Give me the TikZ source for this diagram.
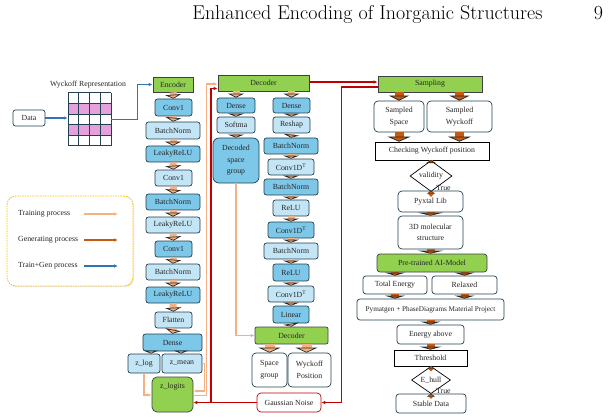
\documentclass[tikz,border=0pt]{standalone}
\usepackage{fontspec}
\newfontfamily\tnr{Liberation Serif}
\usetikzlibrary{arrows.meta,shapes.geometric,shadows}
\definecolor{grn}{HTML}{92D050}
\definecolor{bdk}{HTML}{7DC7E9}
\definecolor{blt}{HTML}{C3E5F5}
\definecolor{edge}{HTML}{22404F}
\definecolor{sal}{HTML}{F4B183}
\definecolor{dor}{HTML}{C55A11}
\definecolor{lblue}{HTML}{2E75B6}
\definecolor{rd}{HTML}{C00000}
\definecolor{pinkc}{HTML}{E4A1DC}
\definecolor{gold}{HTML}{FFC000}
\begin{document}
\begin{tikzpicture}[x=1pt,y=-1pt,
  bx/.style={draw=edge,line width=0.7pt,rounded corners=2.5pt,inner sep=0pt,align=center,text=black!85,font=\tnr\fontsize{7.8}{11.5}\selectfont},
  dk/.style={bx,fill=bdk},
  lt/.style={bx,fill=blt},
  wt/.style={bx,fill=white},
  gr/.style={bx,fill=grn,draw=black!75,rounded corners=0pt},
  sq/.style={bx,fill=white,draw=black,rounded corners=0pt},
  dm/.style={diamond,draw=black,fill=white,line width=0.7pt,inner sep=0pt,text=black!85,font=\tnr\fontsize{7.8}{9}\selectfont},
  sz/.style 2 args={minimum width=#1pt,minimum height=#2pt},
  txt/.style={inner sep=0pt,text=black!85,font=\tnr\fontsize{7.8}{9}\selectfont},
  la/.style n args={3}{draw=sal,line width=#1pt,-{Triangle[width=#2pt,length=#3pt,color=black!85,fill=sal,line width=0.7pt]}},
  da/.style n args={3}{draw=dor,line width=#1pt,-{Triangle[width=#2pt,length=#3pt,color=black!85,fill=dor,line width=0.7pt]}},
  dd/.style={draw=dor,line width=2.2pt,{Circle[length=4.5pt,width=4.5pt,color=dor]}-{Triangle[width=8pt,length=3pt,color=black!85,fill=dor,line width=0.4pt]}},
  rl/.style={draw=rd,line width=1.1pt,-{Latex[length=4pt,width=3.5pt]}},
  bl/.style={draw=lblue,line width=1.1pt,-{Latex[length=4pt,width=3.5pt]}},
  sl/.style={draw=sal,line width=1.1pt,-{Latex[length=4pt,width=3.5pt]}},
  gl/.style={draw=dor,line width=1.2pt,-{Latex[length=4pt,width=3.5pt]}}
]
\useasboundingbox (0,0) rectangle (614,420);

% header
\node[font=\fontsize{20}{22}\selectfont,anchor=base] (hdr) at (367.5,20) {Enhanced Encoding of Inorganic Structures};
\node[font=\fontsize{20}{22}\selectfont,anchor=base] (pg) at (598.5,20) {9};

% data and grid
\node[wt,sz={32}{16}] (data) at (29,118) {Data};
\node[txt] (wr) at (88,85) {Wyckoff Representation};
\node[inner sep=0pt,sz={43}{53}] (grid) at (89.5,119.5) {};
\foreach \r in {1,3} \fill[pinkc] (68,93+\r*10.6) rectangle ++(43,10.6);
\foreach \i in {0,...,4} \draw[edge,line width=1pt] (68+\i*10.75,93) -- ++(0,53);
\foreach \j in {0,...,5} \draw[edge,line width=1pt] (68,93+\j*10.6) -- ++(43,0);

% legend
\node[draw=gold,dash pattern=on 1.5pt off 1pt,line width=0.8pt,rounded corners=9pt,fill=white,sz={126}{90},
  drop shadow={opacity=0.18,shadow xshift=1.2pt,shadow yshift=-1.2pt}] (leg) at (70,241) {};
\node[txt,anchor=west] (l1) at (18,214) {Training process};
\node[txt,anchor=west] (l2) at (18,240) {Generating process};
\node[txt,anchor=west] (l3) at (18,266) {Train+Gen process};
\coordinate (a1) at (84,214); \coordinate (b1) at (118,214);
\coordinate (a2) at (84,240); \coordinate (b2) at (118,240);
\coordinate (a3) at (84,266); \coordinate (b3) at (118,266);
\draw[sl,line width=1.4pt] (a1) -- (b1);
\draw[gl,line width=1.4pt] (a2) -- (b2);
\draw[bl,line width=1.4pt] (a3) -- (b3);

% encoder column
\node[gr,sz={40}{15}] (enc) at (173,84.5) {Encoder};
\node[dk,sz={37}{17}] (e1) at (173.5,107.5) {Conv1};
\node[lt,sz={54}{17}] (e2) at (173,130.5) {BatchNorm};
\node[dk,sz={54}{16}] (e3) at (173,154) {LeakyReLU};
\node[lt,sz={37}{16}] (e4) at (173.5,178) {Conv1};
\node[dk,sz={54}{16}] (e5) at (173,202) {BatchNorm};
\node[lt,sz={54}{16}] (e6) at (173,225) {LeakyReLU};
\node[dk,sz={37}{16}] (e7) at (173.5,249) {Conv1};
\node[lt,sz={54}{16}] (e8) at (173,272) {BatchNorm};
\node[dk,sz={54}{16}] (e9) at (173,295) {LeakyReLU};
\node[lt,sz={37}{16}] (e10) at (173.5,320) {Flatten};
\node[dk,sz={59}{17}] (e11) at (172.5,342.5) {Dense};
\node[lt,sz={32}{19}] (zlog) at (144,363.5) {z\_log};
\node[lt,sz={40}{19}] (zmean) at (182,363.5) {z\_mean};
\node[bx,fill=grn,draw=black!75,rounded corners=5pt,sz={41}{35},
  label={[txt,anchor=north,yshift=-6pt]north:z\_logits}] (zl) at (172.5,394.5) {};

\foreach \a/\b in {enc/e1,e1/e2,e2/e3,e3/e4,e4/e5,e5/e6,e6/e7,e7/e8,e8/e9,e9/e10,e10/e11}
  \draw[la={7}{16}{4}] (\a.south) -- (\b.north);
\draw[la={7}{14}{3}] ([xshift=-21.5pt]e11.south) -- ([xshift=-21.5pt]e11.south |- zlog.north);
\draw[la={7}{14}{3}] ([xshift=8.5pt]e11.south) -- ([xshift=8.5pt]e11.south |- zmean.north);

% decoder
\node[gr,sz={91}{16}] (dec1) at (263.5,83) {Decoder};
\node[dk,sz={38}{15}] (d1) at (236,105.5) {Dense};
\node[lt,sz={38}{16}] (d2) at (236,125) {Softma};
\node[dk,rounded corners=6pt,sz={46}{45}] (d3) at (236,160.5) {Decoded\\space\\group};
\node[dk,sz={37}{15}] (r1) at (291.5,105.5) {Dense};
\node[lt,sz={37}{16}] (r2) at (291.5,125) {Reshap};
\node[dk,sz={54}{16}] (r3) at (291,146) {BatchNorm};
\node[lt,sz={46}{16}] (r4) at (291,167) {Conv1D\textsuperscript{T}};
\node[dk,sz={54}{16}] (r5) at (291,187) {BatchNorm};
\node[lt,sz={36}{16}] (r6) at (291,208) {ReLU};
\node[dk,sz={46}{16}] (r7) at (291,230) {Conv1D\textsuperscript{T}};
\node[lt,sz={54}{16}] (r8) at (291,251) {BatchNorm};
\node[dk,sz={36}{17}] (r9) at (291,272.5) {ReLU};
\node[lt,sz={46}{16}] (r10) at (291,294) {Conv1D\textsuperscript{T}};
\node[dk,sz={36}{17}] (r11) at (291,314.5) {Linear};
\node[gr,rounded corners=2pt,sz={73}{17}] (dec2) at (291.5,335.5) {Decoder};
\node[wt,rounded corners=4pt,sz={35}{34}] (sg) at (269.5,370) {Space\\group};
\node[wt,rounded corners=4pt,sz={43}{34}] (wp) at (309.5,370) {Wyckoff\\Position};
\node[wt,draw=rd,rounded corners=4pt,sz={64}{19}] (gn) at (289,402.5) {Gaussian Noise};

\draw[la={7}{16}{4}] (dec1.south -| d1) -- (d1.north);
\draw[la={7}{16}{4}] (dec1.south -| r1) -- (r1.north);
\draw[la={7}{16}{3}] (d1) -- (d2.north);
\draw[la={7}{16}{3}] (d2.south) -- (d3.north);
\foreach \a/\b in {r1/r2,r2/r3,r3/r4,r4/r5,r5/r6,r6/r7,r7/r8,r8/r9,r9/r10,r10/r11,r11/dec2}
  \draw[la={7}{16}{3}] (\a.south) -- (\b.north);
\draw[la={10}{22}{5}] (dec2.south -| sg) -- (sg.north);
\draw[la={10}{22}{5}] ([xshift=-3pt]dec2.south -| wp) -- ([xshift=-3pt]wp.north);

% sampling column
\node[gr,sz={104}{16}] (samp) at (430,84) {Sampling};
\node[wt,rounded corners=4pt,sz={50}{31}] (ss) at (399,116.5) {Sampled\\Space};
\node[wt,rounded corners=4pt,sz={65}{31}] (sw) at (459.5,116.5) {Sampled\\Wyckoff};
\node[sq,sz={114}{18}] (chk) at (432,151) {Checking Wyckoff position};
\node[dm,sz={42}{24}] (val) at (431,176) {validity};
\node[txt,anchor=west] (t1) at (436,187.5) {True};
\node[wt,rounded corners=4pt,sz={65}{21}] (pyx) at (430.5,201.5) {Pyxtal Lib};
\node[wt,rounded corners=4pt,sz={65}{33}] (mol) at (430.5,232.5) {3D molecular\\structure};
\node[gr,rounded corners=3pt,sz={110}{18}] (ai) at (432,263) {Pre-trained AI-Model};
\node[wt,rounded corners=3pt,sz={64}{18}] (te) at (395,285) {Total Energy};
\node[wt,rounded corners=3pt,sz={65}{18}] (rel) at (464.5,285) {Relaxed};
\node[wt,rounded corners=3pt,sz={147}{21},font=\tnr\fontsize{7.2}{9}\selectfont] (pym) at (430.5,309.5) {Pymatgen + PhaseDiagrams Material Project};
\node[wt,rounded corners=3pt,sz={67}{19}] (ea) at (430.5,334.5) {Energy above};
\node[sq,sz={73}{16}] (thr) at (430.5,358) {Threshold};
\node[dm,sz={39}{22}] (eh) at (431,380) {E\_hull};
\node[txt,anchor=west] (t2) at (436,391) {True};
\node[wt,rounded corners=3pt,sz={70}{19}] (sd) at (431,403.5) {Stable Data};

\draw[da={9}{20}{5}] (samp.south -| ss) -- (ss.north);
\draw[da={9}{20}{5}] (samp.south -| sw) -- (sw.north);
\draw[da={9}{23}{5}] (ss.south) -- (ss.south |- chk.north);
\draw[da={9}{23}{5}] (sw.south) -- (sw.south |- chk.north);
\draw[da={4}{10}{3}] (chk.south -| val) -- (val.north);
\draw[dd] (val.south) -- (val.south |- pyx.north);
\draw[da={8}{25}{3}] (pyx.south) -- (pyx.south |- mol.north);
\draw[da={8}{25}{3}] (mol.south) -- (mol.south |- ai.north);
\draw[da={8}{20}{3}] (ai.south -| te) -- (te.north);
\draw[da={8}{20}{3}] (ai.south -| rel) -- (rel.north);
\draw[da={8}{20}{3}] (te.south) -- (te.south |- pym.north);
\draw[da={8}{20}{3}] (rel.south) -- (rel.south |- pym.north);
\draw[da={8}{20}{3}] (pym.south -| ea) -- (ea.north);
\draw[da={8}{22}{3}] (ea.south) -- (ea.south |- thr.north);
\draw[dd] (thr.south -| eh) -- (eh.north);
\draw[dd] (eh.south) -- (eh.south |- sd.north);

% connectors
\draw[bl] (data.east) -- (data.east -| grid.west);
\draw[bl] (grid.east) -- ++(26,0) |- (enc.west);
\draw[sl] (zlog.south) |- ([yshift=-0.5pt]zl.west);
\draw[sl] (zmean.east) -- ++(2,0) |- ([yshift=3.5pt]zl.east);
\draw[sl] ([yshift=-1pt]zl.east) -- ++(13,0) |- ([yshift=-1pt]dec1.west);
\draw[rl] (gn.west) -- (gn.west -| zl.east);
\coordinate (rj) at (211,402.5);
\draw[rl] (rj) |- ([yshift=-5.5pt]dec1.west);
\draw[sl] (d3.south) |- (dec2.west);
\draw[rl] ([yshift=1pt]dec1.east) -- ([yshift=1pt]dec1.east -| samp.west);
\draw[rl] ([yshift=-3pt]samp.west) -- ++(-36,0) |- (gn.east);
\end{tikzpicture}
\end{document}
